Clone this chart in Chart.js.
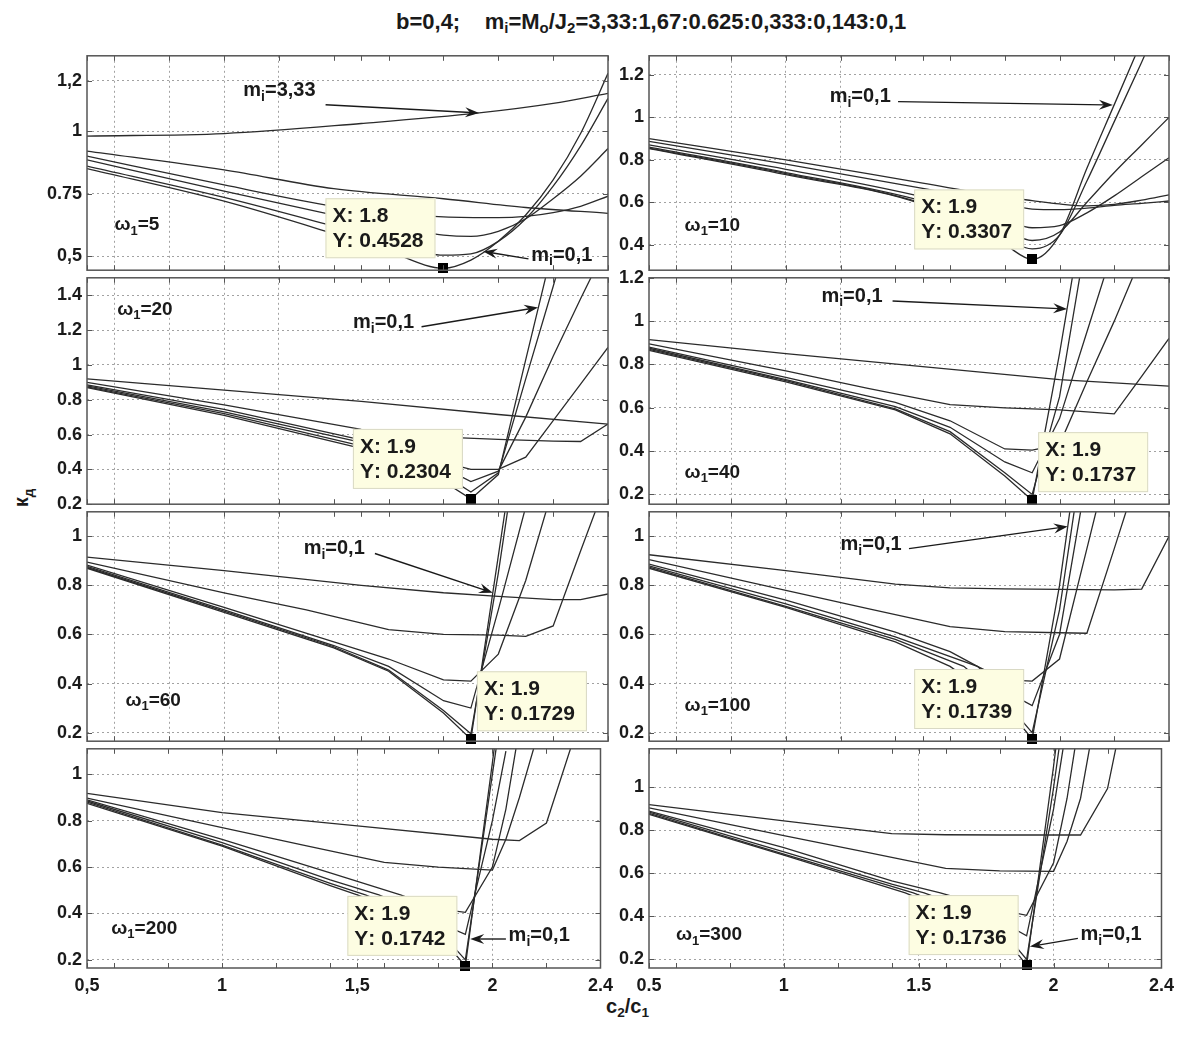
<!DOCTYPE html>
<html>
<head>
<meta charset="utf-8">
<script src="https://cdn.jsdelivr.net/npm/chart.js@4.4.1/dist/chart.umd.min.js"></script>
<style>
  body { margin: 0; background: #fff; }
  #fig { position: relative; width: 1192px; height: 1046px; overflow: hidden;
         font-family: 'Liberation Sans', Arial, sans-serif; font-weight: bold; color: #1a1a1a; }
  #fig canvas { position: absolute; }
  .lbl { position: absolute; white-space: nowrap; line-height: 1; }
  .lbl sub { font-size: 0.68em; vertical-align: -0.3em; }
</style>
</head>
<body>
<div id="fig">
  <div class="lbl" style="left:396px; top:11px; font-size:22px;">b=0,4;&nbsp;&nbsp;&nbsp;&nbsp;m<sub>i</sub>=M<sub>o</sub>/J<sub>2</sub>=3,33:1,67:0.625:0,333:0,143:0,1</div>
  <div class="lbl" style="left:14px; top:486px; font-size:20px; transform:rotate(-90deg);">к<sub>д</sub></div>
  <div class="lbl" style="left:606px; top:996px; font-size:20px;">c<sub>2</sub>/c<sub>1</sub></div>
</div>
<script>
// m_i = M_o/J_2 for the six curves of every panel
const mRatios = [3.33, 1.67, 0.625, 0.333, 0.143, 0.1];
const omegas = [5, 10, 20, 40, 60, 100, 200, 300];

// data tips (marked minimum of the m_i=0,1 curve)
const tipX = [1.8, 1.9, 1.9, 1.9, 1.9, 1.9, 1.9, 1.9];
const tipY = [0.4528, 0.3307, 0.2304, 0.1737, 0.1729, 0.1739, 0.1742, 0.1736];

// x axis
const xGrid = [0.5, 0.6, 0.8, 1, 1.2, 1.4, 1.5, 1.6, 1.8, 2, 2.2, 2.4];
const xTicks = [0.5, 1, 1.5, 2, 2.4];
const xLabelsLeft = ['0,5', '1', '1,5', '2', '2.4'];
const xLabelsRight = ['0.5', '1', '1.5', '2', '2.4'];

// y axes
const yTicks5 = [0.5, 0.75, 1, 1.2];
const yLabels5 = ['0,5', '0.75', '1', '1,2'];
const yTicks10 = [0.4, 0.6, 0.8, 1, 1.2];
const yLabels10 = ['0.4', '0.6', '0.8', '1', '1.2'];
const yTicks20 = [0.2, 0.4, 0.6, 0.8, 1, 1.2, 1.4];
const yLabels20 = ['0.2', '0.4', '0.6', '0.8', '1', '1.2', '1.4'];
const yTicks40 = [0.2, 0.4, 0.6, 0.8, 1, 1.2];
const yLabels40 = ['0.2', '0.4', '0.6', '0.8', '1', '1.2'];
const yTicksLow = [0.2, 0.4, 0.6, 0.8, 1];
const yLabelsLow = ['0.2', '0.4', '0.6', '0.8', '1'];

// k_d(c2/c1), one list of [c2/c1, k_d] per m_i, order as mRatios
const w5 = [
  [[0.5,0.98],[1.0,0.99],[1.5,1.03],[1.93,1.072],[2.2,1.11],[2.4,1.15]],
  [[0.5,0.92],[1.0,0.845],[1.4,0.77],[1.8,0.73],[2.1,0.695],[2.4,0.672]],
  [[0.5,0.90],[1.0,0.785],[1.4,0.70],[1.6,0.672],[1.8,0.658],[2.0,0.655],[2.1,0.66],[2.2,0.675],[2.3,0.70],[2.4,0.74]],
  [[0.5,0.885],[1.0,0.76],[1.4,0.665],[1.6,0.62],[1.8,0.585],[1.9,0.58],[2.0,0.60],[2.1,0.65],[2.2,0.73],[2.3,0.82],[2.4,0.93]],
  [[0.5,0.86],[1.0,0.735],[1.4,0.62],[1.6,0.56],[1.8,0.505],[1.9,0.51],[2.0,0.56],[2.1,0.65],[2.2,0.78],[2.3,0.94],[2.4,1.13]],
  [[0.5,0.85],[1.0,0.72],[1.4,0.59],[1.6,0.52],[1.8,0.4528],[1.9,0.485],[2.0,0.56],[2.1,0.665],[2.2,0.805],[2.3,0.99],[2.4,1.23]]
];
const w10 = [
  [[0.5,0.90],[1.0,0.80],[1.5,0.69],[1.8,0.625],[1.9,0.608],[2.0,0.592],[2.1,0.583],[2.2,0.59],[2.3,0.61],[2.4,0.635]],
  [[0.5,0.887],[1.0,0.78],[1.5,0.665],[1.8,0.59],[1.9,0.568],[2.0,0.565],[2.1,0.572],[2.2,0.585],[2.3,0.595],[2.4,0.606]],
  [[0.5,0.87],[1.0,0.755],[1.5,0.625],[1.8,0.52],[1.9,0.48],[2.0,0.49],[2.1,0.55],[2.2,0.63],[2.3,0.72],[2.4,0.81]],
  [[0.5,0.86],[1.0,0.74],[1.5,0.605],[1.8,0.47],[1.9,0.42],[2.0,0.46],[2.1,0.60],[2.2,0.74],[2.3,0.87],[2.4,1.0]],
  [[0.5,0.855],[1.0,0.735],[1.5,0.595],[1.8,0.43],[1.9,0.38],[2.0,0.445],[2.1,0.70],[2.2,0.98],[2.3,1.26],[2.4,1.55]],
  [[0.5,0.853],[1.0,0.73],[1.5,0.59],[1.8,0.40],[1.9,0.3307],[2.0,0.445],[2.1,0.76],[2.2,1.06],[2.3,1.36]]
];
const w20 = [
  [[0.5,0.92],[1.0,0.855],[1.5,0.79],[2.0,0.715],[2.4,0.66]],
  [[0.5,0.90],[1.0,0.77],[1.5,0.63],[1.7,0.595],[1.8,0.585],[2.0,0.572],[2.2,0.562],[2.3,0.56],[2.4,0.66]],
  [[0.5,0.885],[1.0,0.745],[1.5,0.57],[1.8,0.44],[1.9,0.40],[2.0,0.40],[2.1,0.47],[2.2,0.68],[2.3,0.89],[2.4,1.10]],
  [[0.5,0.88],[1.0,0.73],[1.5,0.555],[1.8,0.41],[1.9,0.33],[2.0,0.39],[2.1,0.70],[2.2,1.05],[2.3,1.38],[2.4,1.7]],
  [[0.5,0.874],[1.0,0.72],[1.5,0.535],[1.8,0.37],[1.9,0.27],[2.0,0.38],[2.1,0.92],[2.2,1.45],[2.3,2.0]],
  [[0.5,0.87],[1.0,0.71],[1.5,0.52],[1.8,0.33],[1.9,0.2304],[2.0,0.37],[2.1,1.03],[2.2,1.68]]
];
const w40 = [
  [[0.5,0.915],[1.0,0.85],[1.5,0.79],[2.0,0.73],[2.4,0.70]],
  [[0.5,0.895],[1.0,0.77],[1.3,0.69],[1.6,0.615],[1.8,0.60],[2.0,0.59],[2.2,0.572],[2.3,0.745],[2.4,0.92]],
  [[0.5,0.88],[1.0,0.74],[1.4,0.625],[1.6,0.54],[1.8,0.41],[1.9,0.405],[2.0,0.43],[2.1,0.72],[2.2,1.0],[2.3,1.3]],
  [[0.5,0.875],[1.0,0.73],[1.4,0.605],[1.6,0.51],[1.8,0.35],[1.9,0.30],[2.0,0.55],[2.1,0.95],[2.2,1.35]],
  [[0.5,0.87],[1.0,0.725],[1.4,0.595],[1.6,0.49],[1.8,0.30],[1.9,0.20],[2.0,0.65],[2.1,1.4]],
  [[0.5,0.865],[1.0,0.72],[1.4,0.59],[1.6,0.48],[1.8,0.285],[1.9,0.1737],[2.0,0.85],[2.1,1.6]]
];
const w60 = [
  [[0.5,0.915],[1.0,0.86],[1.5,0.80],[1.8,0.77],[2.0,0.755],[2.2,0.742],[2.3,0.742],[2.4,0.765]],
  [[0.5,0.895],[1.0,0.77],[1.3,0.70],[1.6,0.62],[1.8,0.60],[2.0,0.597],[2.1,0.592],[2.2,0.635],[2.3,0.94],[2.4,1.24]],
  [[0.5,0.883],[1.0,0.71],[1.4,0.57],[1.6,0.50],[1.8,0.415],[1.9,0.41],[2.0,0.52],[2.1,0.82],[2.2,1.2]],
  [[0.5,0.878],[1.0,0.70],[1.4,0.555],[1.6,0.47],[1.8,0.33],[1.9,0.30],[2.0,0.70],[2.1,1.12]],
  [[0.5,0.873],[1.0,0.695],[1.4,0.55],[1.6,0.455],[1.8,0.29],[1.9,0.195],[2.0,0.85],[2.1,1.6]],
  [[0.5,0.87],[1.0,0.69],[1.4,0.545],[1.6,0.45],[1.8,0.28],[1.9,0.1729],[2.0,0.92],[2.1,1.67]]
];
const w100 = [
  [[0.5,0.925],[1.0,0.86],[1.4,0.805],[1.6,0.79],[1.8,0.786],[2.0,0.784],[2.2,0.782],[2.3,0.785],[2.4,1.0]],
  [[0.5,0.905],[1.0,0.78],[1.3,0.705],[1.6,0.632],[1.8,0.612],[2.0,0.607],[2.1,0.605],[2.2,0.95],[2.3,1.3]],
  [[0.5,0.887],[1.0,0.74],[1.4,0.61],[1.6,0.53],[1.7,0.47],[1.8,0.415],[1.9,0.41],[2.0,0.50],[2.1,0.95],[2.2,1.40]],
  [[0.5,0.88],[1.0,0.725],[1.4,0.59],[1.7,0.47],[1.8,0.37],[1.9,0.31],[2.0,0.60],[2.1,1.25]],
  [[0.5,0.875],[1.0,0.715],[1.4,0.58],[1.65,0.47],[1.8,0.33],[1.9,0.20],[2.0,0.70],[2.1,1.45]],
  [[0.5,0.87],[1.0,0.71],[1.4,0.57],[1.6,0.47],[1.8,0.31],[1.9,0.1739],[2.0,0.80],[2.1,1.6]]
];
const w200 = [
  [[0.5,0.918],[1.0,0.835],[1.5,0.778],[2.0,0.72],[2.1,0.714],[2.2,0.79],[2.3,1.15]],
  [[0.5,0.897],[1.0,0.77],[1.3,0.695],[1.6,0.62],[1.8,0.60],[2.0,0.587],[2.05,0.72],[2.1,0.90],[2.2,1.30]],
  [[0.5,0.89],[1.0,0.72],[1.4,0.575],[1.66,0.48],[1.8,0.42],[1.9,0.405],[2.0,0.60],[2.05,0.85],[2.1,1.2]],
  [[0.5,0.885],[1.0,0.705],[1.4,0.545],[1.58,0.48],[1.7,0.42],[1.8,0.36],[1.9,0.31],[2.0,0.80],[2.05,1.1]],
  [[0.5,0.88],[1.0,0.695],[1.4,0.53],[1.53,0.48],[1.7,0.40],[1.8,0.33],[1.9,0.20],[2.0,1.0],[2.05,1.4]],
  [[0.5,0.875],[1.0,0.69],[1.4,0.52],[1.5,0.48],[1.7,0.39],[1.8,0.31],[1.9,0.1742],[2.0,1.05],[2.05,1.5]]
];
const w300 = [
  [[0.5,0.92],[1.0,0.845],[1.4,0.785],[1.6,0.78],[1.8,0.779],[2.0,0.779],[2.1,0.779],[2.2,0.995],[2.25,1.3]],
  [[0.5,0.905],[1.0,0.776],[1.3,0.70],[1.6,0.624],[1.8,0.612],[2.0,0.61],[2.05,0.75],[2.1,0.95],[2.15,1.3]],
  [[0.5,0.89],[1.0,0.72],[1.4,0.565],[1.58,0.51],[1.8,0.43],[1.9,0.405],[2.0,0.65],[2.05,0.95],[2.1,1.35]],
  [[0.5,0.885],[1.0,0.70],[1.4,0.55],[1.52,0.51],[1.8,0.38],[1.9,0.31],[2.0,0.90],[2.05,1.3]],
  [[0.5,0.88],[1.0,0.69],[1.4,0.54],[1.48,0.51],[1.8,0.35],[1.9,0.20],[2.0,1.0],[2.05,1.45]],
  [[0.5,0.875],[1.0,0.685],[1.45,0.51],[1.8,0.33],[1.9,0.1736],[2.0,1.1],[2.05,1.6]]
];

// figure layout (pixels)
const colX = [87, 649];
const colW = [521, 520];
const rowY = [52, 274, 508, 745];
const rowH = [222, 234, 237, 223];
const AXW = 58, PAD = 12, XAXH = 34;

const panels = [
  { curves: w5, row: 0, col: 0, yMin: 0.445, yMax: 1.30, yTicks: yTicks5, yLabels: yLabels5,
    smooth: true, omegaAt: [0.6, 0.625], tipSide: 'left',
    notes: [{ text: 'm_i=3,33', at: [1.07, 1.16], from: [1.37, 1.105], to: [1.93, 1.072] },
            { text: 'm_i=0,1', at: [2.12, 0.505], from: [2.11, 0.49], to: [1.945, 0.52] }] },
  { curves: w10, row: 0, col: 1, yMin: 0.28, yMax: 1.29, yTicks: yTicks10, yLabels: yLabels10,
    smooth: true, omegaAt: [0.63, 0.49], tipSide: 'left',
    notes: [{ text: 'm_i=0,1', at: [1.16, 1.098], from: [1.41, 1.074], to: [2.195, 1.058] }] },
  { curves: w20, row: 1, col: 0, yMin: 0.2, yMax: 1.5, yTicks: yTicks20, yLabels: yLabels20,
    smooth: false, omegaAt: [0.61, 1.317], tipSide: 'left',
    notes: [{ text: 'm_i=0,1', at: [1.47, 1.243], from: [1.72, 1.219], to: [2.145, 1.33] }] },
  { curves: w40, row: 1, col: 1, yMin: 0.155, yMax: 1.2, yTicks: yTicks40, yLabels: yLabels40,
    smooth: false, omegaAt: [0.63, 0.30], tipSide: 'right',
    notes: [{ text: 'm_i=0,1', at: [1.13, 1.115], from: [1.39, 1.093], to: [2.028, 1.056] }] },
  { curves: w60, row: 2, col: 0, yMin: 0.165, yMax: 1.1, yTicks: yTicksLow, yLabels: yLabelsLow,
    smooth: false, omegaAt: [0.64, 0.33], tipSide: 'right',
    notes: [{ text: 'm_i=0,1', at: [1.29, 0.95], from: [1.55, 0.93], to: [1.98, 0.77] }] },
  { curves: w100, row: 2, col: 1, yMin: 0.165, yMax: 1.1, yTicks: yTicksLow, yLabels: yLabelsLow,
    smooth: false, omegaAt: [0.63, 0.311], tipSide: 'left',
    notes: [{ text: 'm_i=0,1', at: [1.2, 0.967], from: [1.45, 0.95], to: [2.03, 1.04] }] },
  { curves: w200, row: 3, col: 0, yMin: 0.165, yMax: 1.11, yTicks: yTicksLow, yLabels: yLabelsLow,
    smooth: false, omegaAt: [0.59, 0.334], tipSide: 'left',
    notes: [{ text: 'm_i=0,1', at: [2.06, 0.306], from: [2.05, 0.29], to: [1.918, 0.29] }] },
  { curves: w300, row: 3, col: 1, yMin: 0.16, yMax: 1.18, yTicks: yTicksLow, yLabels: yLabelsLow,
    smooth: false, omegaAt: [0.6, 0.314], tipSide: 'left',
    notes: [{ text: 'm_i=0,1', at: [2.1, 0.314], from: [2.09, 0.298], to: [1.912, 0.26] }] }
];

const INK = '#1a1a1a';
const FONT = "'Liberation Sans', Arial, sans-serif";

// text with "_x" subscripts, left aligned, vertically centred on y
function drawRich(ctx, str, x, y, size) {
  ctx.save();
  ctx.fillStyle = INK;
  ctx.textBaseline = 'middle';
  ctx.textAlign = 'left';
  let cx = x;
  for (let i = 0; i < str.length; i++) {
    let ch = str[i], sub = false;
    if (ch === '_' && i + 1 < str.length) { ch = str[++i]; sub = true; }
    ctx.font = 'bold ' + (sub ? Math.round(size * 0.68) : size) + 'px ' + FONT;
    ctx.fillText(ch, cx, sub ? y + size * 0.32 : y);
    cx += ctx.measureText(ch).width;
  }
  ctx.restore();
}

function drawArrow(ctx, x1, y1, x2, y2) {
  const a = Math.atan2(y2 - y1, x2 - x1), L = 14, W = 5;
  ctx.save();
  ctx.strokeStyle = INK;
  ctx.fillStyle = INK;
  ctx.lineWidth = 1.4;
  ctx.beginPath();
  ctx.moveTo(x1, y1);
  ctx.lineTo(x2 - Math.cos(a) * L * 0.6, y2 - Math.sin(a) * L * 0.6);
  ctx.stroke();
  ctx.translate(x2, y2);
  ctx.rotate(a);
  ctx.beginPath();
  ctx.moveTo(0, 0);
  ctx.lineTo(-L, -W);
  ctx.lineTo(-L * 0.65, 0);
  ctx.lineTo(-L, W);
  ctx.closePath();
  ctx.fill();
  ctx.restore();
}

const panelDecor = {
  id: 'panelDecor',
  afterDatasetsDraw(chart) {
    const p = chart.options.plugins.panelDecor;
    const xs = chart.scales.x, ys = chart.scales.y, ctx = chart.ctx;
    const px = v => xs.getPixelForValue(v), py = v => ys.getPixelForValue(v);

    // ω1 label
    drawRich(ctx, 'ω_1=' + omegas[p.index], px(p.omegaAt[0]), py(p.omegaAt[1]), 19);

    // m_i labels with arrows
    p.notes.forEach(n => {
      drawRich(ctx, n.text, px(n.at[0]), py(n.at[1]), 20);
      drawArrow(ctx, px(n.from[0]), py(n.from[1]), px(n.to[0]), py(n.to[1]));
    });

    // data tip
    const mx = px(tipX[p.index]), my = py(tipY[p.index]);
    const bw = 110, bh = 60;
    const bx = p.tipSide === 'left' ? mx - 8 - bw : mx + 6;
    const by = p.tipSide === 'left' ? my - 10 - bh : my - 8 - bh;
    ctx.save();
    ctx.fillStyle = '#fdfde2';
    ctx.strokeStyle = '#d9d9c4';
    ctx.lineWidth = 1;
    ctx.fillRect(bx, by, bw, bh);
    ctx.strokeRect(bx + 0.5, by + 0.5, bw - 1, bh - 1);
    ctx.restore();
    drawRich(ctx, 'X: ' + tipX[p.index], bx + 7, by + 18, 21);
    drawRich(ctx, 'Y: ' + tipY[p.index], bx + 7, by + 43, 21);
    ctx.save();
    ctx.fillStyle = '#000';
    ctx.fillRect(Math.round(mx - 5), Math.round(my - 5), 10, 10);
    ctx.restore();
  },
  afterDraw(chart) {
    const p = chart.options.plugins.panelDecor;
    const a = chart.chartArea, ctx = chart.ctx;
    const xs = chart.scales.x, ys = chart.scales.y;
    ctx.save();
    ctx.strokeStyle = '#555';
    ctx.lineWidth = 1.5;
    ctx.strokeRect(a.left, a.top, a.right - a.left, a.bottom - a.top);
    ctx.lineWidth = 1;
    ctx.beginPath();
    xGrid.forEach(v => {
      const x = Math.round(xs.getPixelForValue(v)) + 0.5;
      ctx.moveTo(x, a.top); ctx.lineTo(x, a.top + 5);
      ctx.moveTo(x, a.bottom); ctx.lineTo(x, a.bottom - 5);
    });
    p.yTicks.forEach(v => {
      const y = Math.round(ys.getPixelForValue(v)) + 0.5;
      ctx.moveTo(a.left, y); ctx.lineTo(a.left + 5, y);
      ctx.moveTo(a.right, y); ctx.lineTo(a.right - 5, y);
    });
    ctx.stroke();
    ctx.restore();
  }
};

const fig = document.getElementById('fig');
const tickFont = { family: FONT, size: 18, weight: 'bold' };
const gridColor = edges => c => (edges.includes(c.tick.value) ? 'rgba(0,0,0,0)' : '#a2a2a2');

panels.forEach((p, i) => {
  const bottom = p.row === 3;
  const cv = document.createElement('canvas');
  const L = colX[p.col] - AXW, T = rowY[p.row] - PAD;
  const W = colW[p.col] + AXW + PAD, H = rowH[p.row] + PAD + (bottom ? XAXH : PAD);
  cv.width = W; cv.height = H;
  cv.style.left = L + 'px'; cv.style.top = T + 'px';
  cv.style.width = W + 'px'; cv.style.height = H + 'px';
  fig.appendChild(cv);

  const xVals = bottom ? xTicks : xGrid;
  const xLabels = p.col === 0 ? xLabelsLeft : xLabelsRight;

  new Chart(cv, {
    type: 'line',
    data: {
      datasets: p.curves.map((c, k) => ({
        label: 'm_i=' + mRatios[k],
        data: c.map(([x, y]) => ({ x, y })),
        borderColor: '#2b2b2b',
        borderWidth: 1.3,
        pointRadius: 0,
        cubicInterpolationMode: p.smooth ? 'monotone' : 'default',
        tension: 0,
        fill: false
      }))
    },
    options: {
      responsive: false,
      animation: false,
      devicePixelRatio: 1,
      layout: { padding: { top: PAD, right: PAD, bottom: bottom ? 0 : PAD, left: 0 } },
      plugins: {
        legend: { display: false },
        tooltip: { enabled: false },
        panelDecor: Object.assign({ index: i }, p)
      },
      scales: {
        x: {
          type: 'linear', min: 0.5, max: 2.4,
          afterBuildTicks: s => { s.ticks = xVals.map(v => ({ value: v })); },
          afterFit: s => { s.height = bottom ? XAXH : 0; },
          ticks: {
            display: bottom, autoSkip: false, maxRotation: 0, padding: 7,
            color: INK, font: tickFont,
            callback: (v, idx) => xLabels[idx]
          },
          grid: { color: gridColor([0.5, 2.4]), lineWidth: 1, drawTicks: false },
          border: { display: false, dash: [2, 3] }
        },
        y: {
          type: 'linear', min: p.yMin, max: p.yMax,
          afterBuildTicks: s => { s.ticks = p.yTicks.map(v => ({ value: v })); },
          afterFit: s => { s.width = AXW; },
          ticks: {
            autoSkip: false, padding: 5, color: INK, font: tickFont,
            callback: (v, idx) => p.yLabels[idx]
          },
          grid: { color: gridColor([p.yMin, p.yMax]), lineWidth: 1, drawTicks: false },
          border: { display: false, dash: [2, 3] }
        }
      }
    },
    plugins: [panelDecor]
  });
});
</script>
</body>
</html>
